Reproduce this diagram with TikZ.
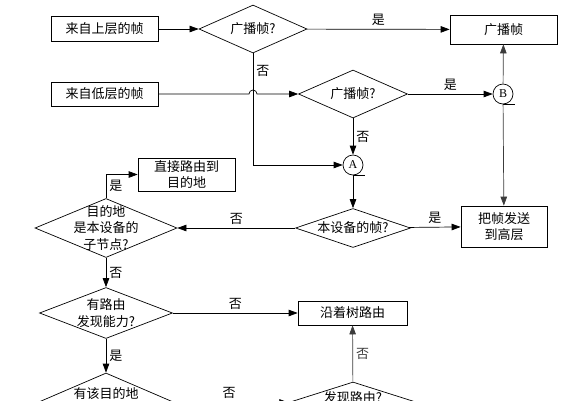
\documentclass[tikz,border=0pt]{standalone}
\usepackage{fontspec}
\setmainfont{Noto Sans CJK SC}
\newfontfamily\latinfont{Liberation Serif}
\usetikzlibrary{shapes.geometric, arrows.meta}
\definecolor{linegray}{RGB}{60, 60, 60}

\begin{document}
\begin{tikzpicture}[
    x=1pt, y=-1pt,
    font=\fontsize{13}{16.5}\selectfont,
    process/.style={draw, line width=0.7pt, align=center, inner sep=0pt},
    decision/.style={diamond, draw, line width=0.7pt, inner sep=0pt},
    connector/.style={circle, draw, line width=0.7pt, minimum size=20pt,
                      inner sep=0pt, font=\latinfont\fontsize{12}{12}\selectfont},
    arrow/.style={-{Triangle[length=9pt, width=6.5pt]}, line width=0.7pt},
    tag/.style={inner sep=3pt}
]
    \useasboundingbox (0,0) rectangle (573,400);
    \clip (0,0) rectangle (573,400);

    % Input frames
    \node[process, minimum width=107pt, minimum height=25pt] (upper) at (104.5,29) {来自上层的帧};
    \node[process, minimum width=107pt, minimum height=24pt] (lower) at (104.5,94) {来自低层的帧};

    % Broadcast checks
    \node[decision, minimum width=108pt, minimum height=48pt,
          label={center:广播帧?}] (bcast1) at (253,29) {};
    \node[decision, minimum width=109pt, minimum height=48pt,
          label={center:广播帧?}] (bcast2) at (353,94) {};
    \node[process, minimum width=107pt, minimum height=29pt] (bcastbox) at (503.5,29.5) {广播帧};

    % Connectors
    \node[connector] (conA) at (353,165) {A};
    \node[connector] (conB) at (503,94) {B};
    \draw[line width=0.7pt] (conA.south) -- ++(12,0);
    \draw[line width=0.7pt] (conB.south) -- ++(12,0);

    % Own frame and upper layer
    \node[decision, minimum width=115pt, minimum height=39pt,
          label={center:本设备的帧?}] (own) at (353,228) {};
    \node[process, minimum width=86pt, minimum height=41pt] (toupper) at (504,226.5) {把帧发送\\到高层};

    % Routing decisions
    \node[decision, minimum width=142pt, minimum height=59pt,
          label={[align=center]center:目的地\\是本设备的\\子节点?}] (child) at (106,228) {};
    \node[process, minimum width=97pt, minimum height=33pt] (direct) at (186.5,174.5) {直接路由到\\目的地};
    \node[decision, minimum width=133pt, minimum height=51pt,
          label={[align=center]center:有路由\\发现能力?}] (discover) at (106,313) {};
    \node[process, minimum width=109pt, minimum height=24pt] (tree) at (352.5,313) {沿着树路由};
    \node[decision, minimum width=130pt, minimum height=56pt,
          label={[yshift=7pt]center:有该目的地}] (hasdest) at (106,401) {};
    \node[decision, minimum width=132pt, minimum height=42pt,
          label={[yshift=5pt]center:发现路由?}] (found) at (353,403) {};

    % Flow
    \draw[arrow] (upper) -- (bcast1);
    \draw[arrow] (bcast1) -- node[tag, above] {是} (bcastbox);
    \draw[arrow] (bcast1.south) |- node[tag, pos=0.08, right] {否} (conA.west);
    \draw[arrow] (lower.east) -- (249,94) arc[start angle=180, end angle=0, radius=4pt]
        -- (bcast2.west);
    \draw[arrow] (bcast2) -- node[tag, above] {是} (conB);
    \draw[arrow] (bcast2) -- node[tag, right] {否} (conA);
    \draw[arrow, linegray] (conB) -- (bcastbox);
    \draw[arrow, linegray] (conB) -- (toupper);
    \draw[arrow] (conA) -- (own);
    \draw[arrow] (own) -- node[tag, above] {是} (toupper);
    \draw[arrow] (own) -- node[tag, above] {否} (child);
    \draw[arrow] (child.north) |- node[tag, pos=0.25, right] {是} (direct.west);
    \draw[arrow] (child) -- node[tag, right] {否} (discover);
    \draw[arrow] (discover) -- node[tag, above] {否} (tree);
    \draw[arrow] (discover) -- node[tag, right] {是} (hasdest);
    \draw[arrow] (hasdest) -- node[tag, above] {否} (found);
    \draw[arrow, linegray] (found) -- node[tag, right] {否} (tree);
\end{tikzpicture}
\end{document}
